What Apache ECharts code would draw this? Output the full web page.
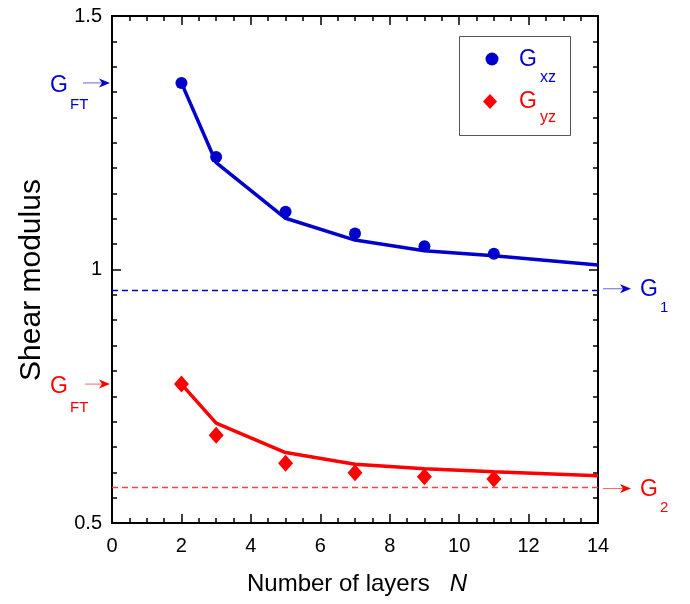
<!DOCTYPE html>
<html><head><meta charset="utf-8">
<script src="https://cdn.jsdelivr.net/npm/echarts@6/dist/echarts.min.js"></script>
<style>html,body{margin:0;padding:0;background:#fff}#c{width:690px;height:604px}</style>
</head><body><div id="c"></div>
<script>
const FONT = "'Liberation Sans', Arial, sans-serif";
const BLUE = '#0000cc', RED = '#ff0000';

// measured data
const xPoints = [2, 3, 5, 7, 9, 11];
const gxzPoints = [1.368, 1.222, 1.114, 1.071, 1.046, 1.031];
const gyzPoints = [0.774, 0.673, 0.618, 0.599, 0.591, 0.587];
const xFit = [2, 3, 5, 7, 9, 11, 14];
const gxzFit = [1.368, 1.211, 1.101, 1.058, 1.037, 1.027, 1.009];
const gyzFit = [0.774, 0.697, 0.639, 0.616, 0.607, 0.601, 0.593];
const G1 = 0.962, G2 = 0.568;
const GFT_xz = 1.368, GFT_yz = 0.774;
const yTickLabels = {0.5: '0.5', 1: '1', 1.5: '1.5'};

const pair = (xs, ys) => xs.map((x, i) => [x, ys[i]]);

const chart = echarts.init(document.getElementById('c'), null, {renderer: 'canvas'});
const axisCommon = {
  axisLine: {show: true, onZero: false, lineStyle: {color: '#000', width: 2}},
  axisTick: {show: true, inside: true, length: 9, lineStyle: {color: '#000', width: 1.5}},
  minorTick: {show: true, length: 5, lineStyle: {color: '#000', width: 1.5}},
  splitLine: {show: false}
};
chart.setOption({
  animation: false,
  backgroundColor: '#fff',
  grid: {left: 112, right: 92, top: 16, bottom: 81},
  xAxis: [
    Object.assign({type: 'value', min: 0, max: 14, interval: 2, position: 'bottom',
      minorTick: Object.assign({}, axisCommon.minorTick, {splitNumber: 4}),
      axisLabel: {color: '#000', fontSize: 20, fontFamily: FONT, margin: 13},
      name: 'Number of layers   {i|N}', nameLocation: 'middle', nameGap: 49,
      nameTextStyle: {color: '#000', fontSize: 24, fontFamily: FONT, padding: [0, 0, 0, 4],
        rich: {i: {fontStyle: 'italic', fontSize: 24, fontFamily: FONT, color: '#000'}}}
    }, {axisLine: axisCommon.axisLine, axisTick: axisCommon.axisTick, splitLine: axisCommon.splitLine}),
    Object.assign({type: 'value', min: 0, max: 14, interval: 2, position: 'top',
      minorTick: Object.assign({}, axisCommon.minorTick, {splitNumber: 4}),
      axisLabel: {show: false}
    }, {axisLine: axisCommon.axisLine, axisTick: axisCommon.axisTick, splitLine: axisCommon.splitLine})
  ],
  yAxis: [
    Object.assign({type: 'value', min: 0.5, max: 1.5, interval: 0.5, position: 'left',
      minorTick: Object.assign({}, axisCommon.minorTick, {splitNumber: 10}),
      axisLabel: {color: '#000', fontSize: 20, fontFamily: FONT, margin: 10,
        formatter: v => yTickLabels[v] !== undefined ? yTickLabels[v] : ''}
    }, {axisLine: axisCommon.axisLine, axisTick: axisCommon.axisTick, splitLine: axisCommon.splitLine}),
    Object.assign({type: 'value', min: 0.5, max: 1.5, interval: 0.5, position: 'right',
      minorTick: Object.assign({}, axisCommon.minorTick, {splitNumber: 10}),
      axisLabel: {show: false}
    }, {axisLine: axisCommon.axisLine, axisTick: axisCommon.axisTick, splitLine: axisCommon.splitLine})
  ],
  series: [
    {type: 'line', data: pair(xFit, gxzFit), showSymbol: false, symbol: 'none',
      lineStyle: {color: BLUE, width: 3.5}, z: 3,
      markLine: {silent: true, symbol: 'none', label: {show: false},
        lineStyle: {color: BLUE, type: [6, 4], width: 1.3}, data: [{yAxis: G1}]}},
    {type: 'line', data: pair(xFit, gyzFit), showSymbol: false, symbol: 'none',
      lineStyle: {color: RED, width: 3.5}, z: 3,
      markLine: {silent: true, symbol: 'none', label: {show: false},
        lineStyle: {color: '#ff4040', type: [6, 4], width: 1.3}, data: [{yAxis: G2}]}},
    {type: 'scatter', data: pair(xPoints, gxzPoints), symbol: 'circle', symbolSize: 12,
      itemStyle: {color: BLUE, opacity: 1}, z: 4},
    {type: 'scatter', data: pair(xPoints, gyzPoints), symbol: 'diamond', symbolSize: [15, 17],
      itemStyle: {color: RED, opacity: 1}, z: 4}
  ]
});

function annotations() {
  const py = v => chart.convertToPixel({yAxisIndex: 0}, v);
  const left = 112, right = 598;
  const els = [];
  function arrow(x1, x2, y, color) {
    els.push({type: 'line', shape: {x1: x1, y1: y, x2: x2 - 6, y2: y}, style: {stroke: color, lineWidth: 1, opacity: 0.6}, z: 10});
    els.push({type: 'polygon', shape: {points: [[x2, y], [x2 - 11, y - 4.5], [x2 - 8, y], [x2 - 11, y + 4.5]]}, style: {fill: color}, z: 10});
  }
  function label(x, y, main, sub, color, subDy) {
    els.push({type: 'text', x: x, y: y, style: {text: main, fill: color, fontSize: 23, fontFamily: FONT, verticalAlign: 'middle', align: 'left'}, z: 10});
    els.push({type: 'text', x: x + 20, y: y + subDy, style: {text: sub, fill: color, fontSize: 15, fontFamily: FONT, verticalAlign: 'middle', align: 'left'}, z: 10});
  }
  // y axis title
  els.push({type: 'text', x: 32, y: 280, rotation: Math.PI / 2,
    style: {text: 'Shear modulus', fill: '#000', fontSize: 30, fontFamily: FONT, align: 'center', verticalAlign: 'middle'}, z: 10});
  // left GFT annotations
  const yb = py(GFT_xz), yr = py(GFT_yz);
  arrow(83, left - 2, yb, BLUE); label(50, yb + 3, 'G', 'FT', BLUE, 19);
  arrow(85, left - 2, yr, RED); label(50, yr + 3, 'G', 'FT', RED, 21);
  // right G1, G2 annotations
  const y1 = py(G1), y2 = py(G2);
  arrow(right + 5, 631, y1, BLUE); label(640, y1 + 1, 'G', '1', BLUE, 18);
  arrow(right + 5, 631, y2, RED); label(640, y2 + 1, 'G', '2', RED, 18);
  // legend box
  els.push({type: 'rect', shape: {x: 459.5, y: 36.5, width: 111, height: 99}, style: {fill: '#fff', stroke: '#555', lineWidth: 1}, z: 9});
  els.push({type: 'circle', shape: {cx: 492, cy: 59, r: 6.5}, style: {fill: BLUE}, z: 10});
  els.push({type: 'polygon', shape: {points: [[490, 94], [497, 101.5], [490, 109], [483, 101.5]]}, style: {fill: RED}, z: 10});
  els.push({type: 'text', x: 519, y: 60, style: {text: 'G', fill: BLUE, fontSize: 23, fontFamily: FONT, verticalAlign: 'middle'}, z: 10});
  els.push({type: 'text', x: 540, y: 78, style: {text: 'xz', fill: BLUE, fontSize: 16, fontFamily: FONT, verticalAlign: 'middle'}, z: 10});
  els.push({type: 'text', x: 519, y: 102, style: {text: 'G', fill: RED, fontSize: 23, fontFamily: FONT, verticalAlign: 'middle'}, z: 10});
  els.push({type: 'text', x: 540, y: 118, style: {text: 'yz', fill: RED, fontSize: 16, fontFamily: FONT, verticalAlign: 'middle'}, z: 10});
  chart.setOption({graphic: els});
}
annotations();
</script></body></html>
